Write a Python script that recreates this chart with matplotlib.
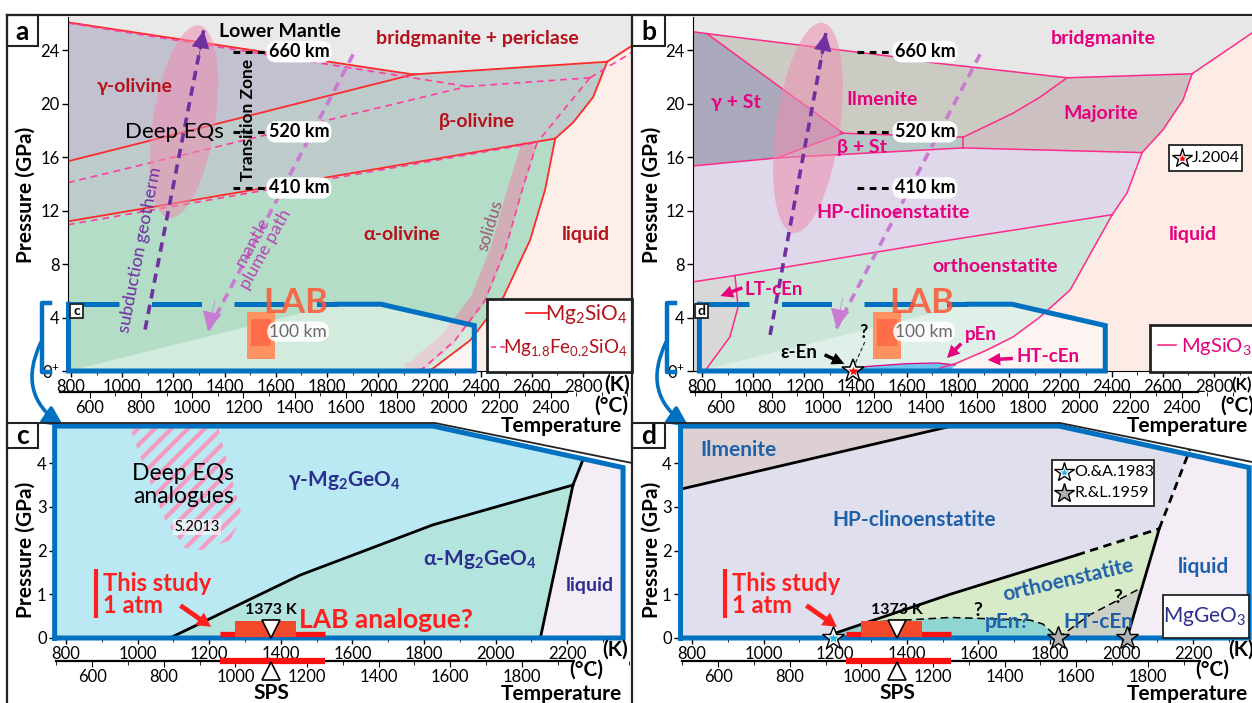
import matplotlib
matplotlib.use("Agg")
import matplotlib.pyplot as plt
from matplotlib.patches import Polygon, Rectangle, Ellipse, FancyArrowPatch
from matplotlib.lines import Line2D
from matplotlib.ticker import MultipleLocator
from matplotlib.transforms import IdentityTransform

plt.rcParams['font.family'] = ['Lato', 'DejaVu Sans']
plt.rcParams['mathtext.fontset'] = 'custom'
plt.rcParams['mathtext.rm'] = 'Lato'
plt.rcParams['mathtext.bf'] = 'Lato:bold'
plt.rcParams['mathtext.fallback'] = 'stixsans'
plt.rcParams['hatch.linewidth'] = 3.0

# ---------------- data : T in K, P in GPa ----------------
# (a) Mg2SiO4, solid lines
fo_bm_gam = [(788, 26.1), (2136, 22.2)]
fo_gam_beta = [(788, 15.7), (2136, 22.2)]
fo_bm_beta = [(2136, 22.2), (2894, 23.15)]
fo_bm_liq = [(2894, 23.15), (2995, 24.4)]
fo_beta_alpha = [(788, 11.2), (2691, 17.4)]
fo_beta_liq = [(2894, 23.15), (2839, 20.5), (2761, 18.6), (2691, 17.4)]
fo_alpha_liq = [(2691, 17.4), (2652, 13.6), (2593, 9.8), (2488, 5.5), (2359, 2.3), (2214, 0.2), (2195, 0)]
# (a) Mg1.8Fe0.2SiO4, dashed lines
fa_bm_gam = [(788, 26.05), (2347, 21.3)]
fa_gam_beta = [(788, 14.1), (2347, 21.3)]
fa_bm_beta = [(2347, 21.3), (2827, 21.95)]
fa_bm_liq = [(2827, 21.95), (2995, 23.9)]
fa_beta_alpha = [(788, 10.95), (2620, 17.1)]
fa_beta_liq = [(2827, 21.95), (2620, 17.1)]
fa_solidus = [(2620, 17.1), (2562, 13.55), (2495, 9.05), (2417, 5.3), (2300, 2.3), (2175, 0.2), (2144, 0)]
solidus_band = [(2590, 17.0), (2533, 13.5), (2466, 9.0), (2388, 5.3), (2268, 2.3), (2140, 0.2), (2110, 0)]

# (b) MgSiO3
en_top = [(765, 25.4), (820, 25.25), (1562, 23.5), (1691, 23.1), (2226, 21.95), (2714, 22.25), (2948, 25.3)]
en_gst_ilm = [(820, 25.25), (1351, 17.8)]
en_gst_low = [(765, 15.35), (1093, 15.95)]
en_bst_left = [(1093, 15.95), (1351, 17.8)]
en_ilm_bst = [(1351, 17.8), (1820, 17.5)]
en_bst_low = [(1093, 15.95), (1820, 16.7)]
en_bst_maj = [(1820, 17.5), (1820, 16.7)]
en_ilm_maj = [(1820, 17.5), (2015, 19.3), (2120, 20.5), (2226, 21.95)]
en_maj_hpc = [(1820, 16.7), (2519, 16.35)]
en_maj_liq = [(2519, 16.35), (2600, 18.05), (2679, 20.3), (2714, 22.25)]
en_hpc_liq = [(2519, 16.35), (2460, 13.33), (2441, 12.8), (2402, 11.7)]
en_hpc_oen = [(765, 6.67), (929, 7.15), (1769, 9.81), (2402, 11.7)]
en_oen_liq = [(2402, 11.7), (2238, 6.07), (2120, 4.04), (2015, 2.55), (1913, 1.57), (1796, 0.6), (1730, 0.22), (1715, 0)]
en_ltc = [(929, 7.15), (941, 4.79), (909, 2.55), (823, 0.3), (812, 0)]
en_pen = [(1300, 0), (1450, 0.35), (1600, 0.55), (1720, 0.6), (1790, 0.45), (1765, 0)]
en_star = (1390, 0)

# (c) Mg2GeO4
mgo_gam_alpha = [(1090, 0), (1454, 1.44), (1825, 2.59), (2216, 3.5)]
mgo_liq = [(2125, 0), (2216, 3.5), (2245, 4.1)]
eq_blob = [(979, 4.8), (1225, 4.8), (1292, 2.77), (1258, 2.24), (1188, 2.01), (1132, 2.06), (1077, 2.7), (1021, 3.84)]

# (d) MgGeO3
mge_ilm = [(760, 3.39), (1525, 4.85)]
mge_hpc_oen = [(1160, 0), (1521, 1.0), (1875, 1.9)]
mge_hpc_oen_q = [(1875, 1.9), (2105, 2.5)]
mge_liq = [(2015, 0), (2105, 2.5)]
mge_liq_q = [(2105, 2.5), (2190, 4.3)]
mge_pen = [(1290, 0.36), (1521, 0.47), (1744, 0.41), (1780, 0.32), (1822, 0)]
mge_htc = [(1822, 0), (1911, 0.53), (2060, 1.17)]
mge_stars = [(1194, 0), (1822, 0), (2015, 0)]

# SPS experiment (this study)
sps_range = (1230, 1523)
lab_range = (1272, 1442)
sps_T = 1373

lab_top_dash = [(790, 5.0), (1840, 5.0)]
lab_outline = [(1840, 5.0), (2010, 5.0), (2375, 3.4), (2375, 0), (790, 0), (790, 5.0)]
cd_frame = [(768, 0), (768, 4.85), (1825, 4.85), (2356, 3.9), (2356, 0), (768, 0)]

BLUE = '#0070c0'
RED = '#ff1f1f'
DR = '#b5121b'
PINK = '#e6007e'
NAVY = '#2b2f8f'
BL2 = '#1f60aa'
PURP = '#7030a0'
PLUME = '#c87bd0'

W, H = 1252, 703
fig = plt.figure(figsize=(W / 100, H / 100), dpi=100)


def rect(x0, y0, x1, y1):
    return [x0 / W, 1 - y1 / H, (x1 - x0) / W, (y1 - y0) / H]


def fline(xs, ys, **kw):
    fig.add_artist(Line2D([x / W for x in xs], [1 - y / H for y in ys], **kw))


def ftext(x, y, s, **kw):
    fig.text(x / W, 1 - y / H, s, **kw)


def fbox(x0, y0, x1, y1, lw=1.5):
    fig.add_artist(Rectangle((x0 / W, 1 - y1 / H), (x1 - x0) / W, (y1 - y0) / H,
                             transform=fig.transFigure, fc='white', ec='#222222', lw=lw))


def fstar(x, y, ms, fc):
    fig.add_artist(Line2D([x / W], [1 - y / H], marker='*', ms=ms, mfc=fc, mec='black', mew=1.0))


def fill(ax, pts, color, z=1, **kw):
    ax.add_patch(Polygon(pts, closed=True, fc=color, ec='none', zorder=z, **kw))


def line(ax, pts, **kw):
    T, P = zip(*pts)
    ax.plot(T, P, **kw)


def style(ax, xt, yt, ylab, cticks, cloc, cb):
    ax.set_facecolor('none')
    for s in ('top', 'right'):
        ax.spines[s].set_visible(False)
    ax.set_xticks(xt)
    ax.xaxis.set_minor_locator(MultipleLocator(100))
    ax.set_yticks(yt)
    ax.set_yticklabels(ylab)
    ax.tick_params(labelsize=12, length=4, width=1, pad=2)
    ax.tick_params(which='minor', length=3)
    sec = ax.secondary_xaxis(cloc, functions=(lambda k: k - 273, lambda c: c + 273))
    sec.set_xticks(cticks)
    sec.xaxis.set_minor_locator(MultipleLocator(100))
    sec.tick_params(labelsize=12, length=4, pad=2)
    sec.tick_params(which='minor', length=3)
    sec.spines['bottom'].set_bounds(*cb)
    sec.spines['bottom'].set_linewidth(1.6)


def ellipse(ax, T, P, w, h, ang):
    cx, cy = ax.transData.transform((T, P))
    ax.add_patch(Ellipse((cx, cy), w, h, angle=ang, transform=IdentityTransform(),
                         fc='#ee8db0', ec='none', alpha=0.55, zorder=3))


def dash_arrow(ax, pts, tip_from, color, lw, ms):
    line(ax, pts, color=color, lw=lw, ls=(0, (2.6, 1.8)), zorder=4)
    ax.add_patch(FancyArrowPatch(tip_from, pts[-1], arrowstyle='-|>', mutation_scale=ms,
                                 color=color, lw=0.5, zorder=4, shrinkA=0, shrinkB=0))


def phase(ax, T, P, s, color, size=14, **kw):
    ax.text(T, P, s, color=color, fontsize=size, fontweight='bold', ha='center', va='center', zorder=6, **kw)


def km_labels(ax, t0, t1, tc):
    for s, p in (('660 km', 23.9), ('520 km', 17.9), ('410 km', 13.7)):
        ax.plot([t0, t1], [p, p], color='black', lw=2.2, ls=(0, (2.2, 1.8)), zorder=6)
        ax.text(tc, p, s, fontsize=13, fontweight='bold', ha='center', va='center', zorder=7,
                bbox=dict(boxstyle='round,pad=0.12,rounding_size=0.55', fc='white', ec='none'))


def lab_region(ax, rect_T):
    fill(ax, lab_outline[:5], 'white', z=1.6, alpha=0.42)
    line(ax, lab_top_dash, color=BLUE, lw=3.6, ls=(0, (10, 6.5)), zorder=5, solid_capstyle='butt')
    line(ax, lab_outline, color=BLUE, lw=3.6, zorder=5, clip_on=False, solid_joinstyle='miter')
    ax.add_patch(Rectangle((rect_T, 0.9), 110, 3.5, fc='#ff9262', ec='none', zorder=3))
    ax.add_patch(Rectangle((rect_T + 15, 1.9), 80, 2.0, fc='#ff6e4a', ec='none', zorder=3))
    ax.text(rect_T + 190, 5.1, 'LAB', fontsize=25, fontweight='bold', color='#ff5636', alpha=0.85,
            ha='center', va='center', zorder=7)
    ax.text(rect_T + 200, 2.95, '100 km', fontsize=12.5, color='#6a6a6a', ha='center', va='center', zorder=6,
            bbox=dict(boxstyle='round,pad=0.12,rounding_size=0.6', fc='white', ec='none', alpha=0.9))


def sps_marks(ax, tx, bar_T):
    ax.plot(sps_range, [0.1, 0.1], color='#ff1010', lw=3.8, solid_capstyle='butt', zorder=6)
    ax.add_patch(Rectangle((lab_range[0], 0.03), lab_range[1] - lab_range[0], 0.37, fc='#f24a2a', ec='none', zorder=6))
    ax.plot([sps_T], [0.2], marker='v', ms=13, mfc='white', mec='black', mew=1.2, zorder=7)
    ax.text(sps_T, 0.64, '1373 K', fontsize=11.5, fontweight='bold', ha='center', va='center', zorder=7)
    ax.plot(sps_range, [-0.53, -0.53], color='#ff1010', lw=4.5, solid_capstyle='butt', zorder=6, clip_on=False)
    ax.plot([sps_T], [-0.76], marker='^', ms=13, mfc='white', mec='black', mew=1.2, zorder=7, clip_on=False)
    ax.text(sps_T, -1.26, 'SPS', fontsize=15, fontweight='bold', ha='center', va='center', clip_on=False)
    ax.plot([bar_T, bar_T], [0.46, 1.58], color=RED, lw=3, solid_capstyle='butt', zorder=7)
    ax.text(tx, 1.0, 'This study\n1 atm', color=RED, fontsize=17, fontweight='bold', ha='left', va='center',
            linespacing=0.95, zorder=7)
    ax.annotate('', xy=(1211, 0.22), xytext=(1113, 0.78),
                arrowprops=dict(arrowstyle='simple,head_width=1.1,head_length=1.0,tail_width=0.35',
                                fc=RED, ec='none'), zorder=7)


# ================= panel a =================
ax_a = fig.add_axes(rect(68, 17, 632, 371))
ax_a.set_xlim(788, 2991)
ax_a.set_ylim(0, 26.5)
ax = ax_a
fill(ax, [(788, 26.6), (2995, 26.6), (2995, 24.4), (2894, 23.15), (2136, 22.2), (788, 26.1)], '#e9e9e9')
fill(ax, [(788, 26.1), (2136, 22.2), (788, 15.7)], '#c2c1d0')
fill(ax, [(788, 15.7), (2136, 22.2)] + fo_beta_liq + [(788, 11.2)], '#bdcbca')
fill(ax, [(788, 11.2)] + fo_alpha_liq + [(788, 0)], '#b3ddc6')
fill(ax, [(2995, 24.4)] + fo_beta_liq + fo_alpha_liq[1:] + [(2995, 0)], '#fdeee9')
line(ax, solidus_band, color='#d9a3b3', lw=11, alpha=0.8, zorder=1.5, solid_capstyle='butt')
for pts in (fo_bm_gam, fo_gam_beta, fo_bm_beta, fo_bm_liq, fo_beta_alpha, fo_beta_liq, fo_alpha_liq):
    line(ax, pts, color='#ff2a2a', lw=1.3, zorder=2)
for pts in (fa_bm_gam, fa_gam_beta, fa_bm_beta, fa_bm_liq, fa_beta_alpha, fa_beta_liq, fa_solidus):
    line(ax, pts, color='#ff3ca0', lw=1.2, ls=(0, (4, 3)), zorder=2)
lab_region(ax, 1487)
ellipse(ax, 1241, 18.65, 62, 195, -9)
dash_arrow(ax, [(1089, 3.1), (1318, 25.5)], (1300, 23.6), PURP, 2.6, 30)
dash_arrow(ax, [(1902, 23.7), (1335, 3.0)], (1362, 5.3), PLUME, 2.6, 32)
ax.text(1070, 9.1, 'subduction geotherm', color=PURP, fontsize=13, rotation=79, ha='center', va='center', zorder=6)
ax.text(1535, 9.4, 'mantle\nplume path', color='#b347b3', fontsize=13, rotation=61, ha='center', va='center',
        linespacing=0.9, zorder=6)
ax.text(2437, 10.9, 'solidus', color='#9e5878', fontsize=12.5, rotation=73, ha='center', va='center', zorder=6)
phase(ax, 1616, 25.4, 'Lower Mantle', 'black', 14)
phase(ax, 2386, 24.9, 'bridgmanite + periclase', DR, 14)
phase(ax, 1050, 21.3, 'γ-olivine', DR, 14)
phase(ax, 2386, 18.7, 'β-olivine', DR, 14)
phase(ax, 2093, 10.2, 'α-olivine', DR, 14)
phase(ax, 2812, 10.2, 'liquid', DR, 14)
ax.text(1202, 17.9, 'Deep EQs', fontsize=16, ha='center', va='center', zorder=6)
ax.text(1491, 18.8, 'Transition Zone', fontsize=12.5, fontweight='bold', rotation=90, ha='center', va='center', zorder=6)
km_labels(ax, 1433, 1557, 1690)
style(ax, range(800, 3000, 200), range(0, 28, 4), ['0$^\\mathregular{+}$'] + [str(v) for v in range(4, 28, 4)],
      range(600, 2600, 200), -0.059, (484, 2464))

# ================= panel b =================
ax_b = fig.add_axes(rect(693, 17, 1252, 371))
ax_b.set_xlim(765, 2948)
ax_b.set_ylim(0, 26.5)
ax = ax_b
fill(ax, [(765, 26.6), (2950, 26.6)] + en_top[::-1], '#e7e7e7')
fill(ax, [(765, 25.4), (820, 25.25), (1351, 17.8), (1093, 15.95), (765, 15.35)], '#a9a9bb')
fill(ax, en_top[1:5] + en_ilm_maj[::-1] + [(1351, 17.8)], '#cbcbc3')
fill(ax, [(1093, 15.95), (1351, 17.8), (1820, 17.5), (1820, 16.7)], '#b5c7c6')
fill(ax, en_ilm_maj + [(2714, 22.25)] + en_maj_liq[::-1] + [(1820, 16.7)], '#cdc0c1')
fill(ax, [(765, 15.35), (1093, 15.95), (1820, 16.7)] + en_hpc_liq + en_hpc_oen[::-1], '#dfd8ea')
fill(ax, en_hpc_oen + en_oen_liq[1:] + [(765, 0)], '#c9e6d9')
fill(ax, [(765, 6.67)] + en_ltc + [(765, 0)], '#d8d8d8')
fill(ax, [(2948, 25.3), (2714, 22.25)] + en_maj_liq[::-1][1:] + en_hpc_liq[1:] + en_oen_liq[1:] + [(2950, 0)], '#fdebe6')
fill(ax, en_pen, '#6ec3ec', z=1.8)
line(ax, en_pen[:-1], color=PINK, lw=0.9, zorder=2)
for pts in (en_top, en_gst_ilm, en_gst_low, en_bst_left, en_ilm_bst, en_bst_low, en_bst_maj, en_ilm_maj,
            en_maj_hpc, en_maj_liq, en_hpc_liq, en_hpc_oen, en_oen_liq, en_ltc):
    line(ax, pts, color='#ff2a8a', lw=1.1, zorder=2)
lab_region(ax, 1468)
ellipse(ax, 1214, 18.2, 64, 212, -8)
dash_arrow(ax, [(1066, 2.7), (1284, 25.3)], (1266, 23.4), PURP, 2.6, 30)
dash_arrow(ax, [(1886, 23.7), (1325, 3.2)], (1350, 5.5), PLUME, 2.6, 32)
phase(ax, 2366, 24.9, 'bridgmanite', PINK, 14)
phase(ax, 933, 20.1, 'γ + St', PINK, 14)
phase(ax, 1503, 20.3, 'Ilmenite', PINK, 14)
phase(ax, 1425, 16.7, 'β + St', PINK, 14)
phase(ax, 2358, 19.25, 'Majorite', PINK, 14)
phase(ax, 1546, 11.9, 'HP-clinoenstatite', PINK, 14)
phase(ax, 2718, 10.2, 'liquid', PINK, 14)
phase(ax, 1945, 7.8, 'orthoenstatite', PINK, 14)
phase(ax, 1081, 6.07, 'LT-cEn', PINK, 13.5)
phase(ax, 1890, 2.7, 'pEn', PINK, 13.5)
phase(ax, 2152, 1.12, 'HT-cEn', PINK, 13.5)
phase(ax, 1179, 1.35, 'ε-En', 'black', 13.5)
phase(ax, 1429, 2.9, '?', 'black', 13)
arw = dict(arrowstyle='simple,head_width=0.9,head_length=0.9,tail_width=0.25', ec='none')
ax.annotate('', xy=(862, 5.54), xytext=(968, 6.3), arrowprops=dict(fc=PINK, **arw), zorder=7)
ax.annotate('', xy=(1749, 0.82), xytext=(1820, 2.2), arrowprops=dict(fc=PINK, **arw), zorder=7)
ax.annotate('', xy=(1905, 0.82), xytext=(2025, 0.95), arrowprops=dict(fc=PINK, **arw), zorder=7)
ax.annotate('', xy=(1366, 0.45), xytext=(1269, 1.3), arrowprops=dict(fc='black', **arw), zorder=7)
line(ax, [(1390, 0.2), (1440, 2.35)], color='#333333', lw=0.9, ls=(0, (3, 2)), zorder=6)
ax.plot(*en_star, marker='*', ms=17, mfc='white', mec='black', mew=1.1, zorder=8, clip_on=False)
ax.plot(*en_star, marker='*', ms=7, mfc='red', mec='none', zorder=9, clip_on=False)
km_labels(ax, 1405, 1546, 1671)
style(ax, range(800, 3000, 200), range(0, 28, 4), ['0$^\\mathregular{+}$'] + [str(v) for v in range(4, 28, 4)],
      range(600, 2600, 200), -0.059, (484, 2464))

# ================= panel c =================
ax_c = fig.add_axes(rect(55, 423, 632, 638))
ax_c.set_xlim(769, 2381)
ax_c.set_ylim(0, 4.92)
ax = ax_c
clip_c = Polygon(cd_frame, closed=True, transform=ax.transData)
for pts, col in (([(760, 0), (760, 5), (2300, 5)] + mgo_gam_alpha[::-1], '#bae8f3'),
                 (mgo_gam_alpha + mgo_liq[1:] + [(2400, 4.1), (2400, 0)], '#b4e4de'),
                 (mgo_liq + [(2300, 5), (2400, 5), (2400, 0)], '#f4edf5')):
    p = Polygon(pts, closed=True, fc=col, ec='none', zorder=1)
    ax.add_patch(p)
    p.set_clip_path(clip_c)
ax.add_patch(Polygon(eq_blob, closed=True, fill=False, hatch='//', ec='#f59ac0', lw=0, zorder=2))
line(ax, mgo_gam_alpha, color='black', lw=2, zorder=3)
line(ax, mgo_liq, color='black', lw=2, zorder=3)
line(ax, cd_frame, color=BLUE, lw=3.6, zorder=5, clip_on=False, solid_joinstyle='miter')
ax.text(1127, 3.5, 'Deep EQs\nanalogues', fontsize=16.5, ha='center', va='center', linespacing=1.1, zorder=6)
ax.text(1166, 2.54, 'S.2013', fontsize=10.5, ha='center', va='center', zorder=6,
        bbox=dict(boxstyle='square,pad=0.1', fc='white', ec='none', alpha=0.6))
phase(ax, 1579, 3.6, 'γ-Mg$_\\mathregular{2}$GeO$_\\mathregular{4}$', NAVY, 15)
phase(ax, 1956, 1.8, 'α-Mg$_\\mathregular{2}$GeO$_\\mathregular{4}$', NAVY, 15)
phase(ax, 2264, 1.21, 'liquid', NAVY, 14)
ax.text(1452, 0.42, 'LAB analogue?', color=RED, fontsize=19, fontweight='bold', ha='left', va='center', zorder=8)
sps_marks(ax, 903, 884)
style(ax, range(800, 2400, 200), range(0, 5), [str(v) for v in range(5)], range(600, 2000, 200), -0.107, (500, 1943))
ax.spines['left'].set_visible(False)
ax.spines['bottom'].set_visible(False)

# ================= panel d =================
ax_d = fig.add_axes(rect(680, 423, 1252, 638))
ax_d.set_xlim(766.5, 2364)
ax_d.set_ylim(0, 4.92)
ax = ax_d
clip_d = Polygon(cd_frame, closed=True, transform=ax.transData)
regions_d = (
    ([(760, 0)] + mge_hpc_oen + mge_hpc_oen_q + mge_liq_q[1:] + [(2230, 5), (760, 5)], '#dfdfee'),
    ([(760, 3.39), (1525, 4.85), (1525, 5), (760, 5)], '#ddd0d2'),
    (mge_hpc_oen + mge_hpc_oen_q + [(2060, 1.17)] + mge_htc[::-1][1:], '#d7ebc9'),
    ([(1160, 0)] + mge_pen + [(1300, 0)], '#8fd6d3'),
    (mge_htc + [(2015, 0)], '#cbd0c4'),
    (mge_liq + mge_liq_q[1:] + [(2230, 5), (2400, 5), (2400, 0)], '#f4edf5'),
)
for pts, col in regions_d:
    p = Polygon(pts, closed=True, fc=col, ec='none', zorder=1)
    ax.add_patch(p)
    p.set_clip_path(clip_d)
line(ax, mge_ilm, color='black', lw=2, zorder=3)
line(ax, mge_hpc_oen, color='black', lw=2, zorder=3)
line(ax, mge_liq, color='black', lw=2, zorder=3)
line(ax, mge_hpc_oen_q, color='black', lw=2, ls=(0, (3, 2)), zorder=3)
line(ax, mge_liq_q, color='black', lw=2, ls=(0, (3, 2)), zorder=3)
line(ax, mge_pen, color='black', lw=1.1, ls=(0, (5, 3)), zorder=3)
line(ax, mge_htc, color='black', lw=1.1, ls=(0, (5, 3)), zorder=3)
line(ax, cd_frame, color=BLUE, lw=3.6, zorder=5, clip_on=False, solid_joinstyle='miter')
phase(ax, 931, 4.3, 'Ilmenite', BL2, 15)
phase(ax, 1420, 2.7, 'HP-clinoenstatite', BL2, 15)
phase(ax, 1850, 1.33, 'orthoenstatite', BL2, 15, rotation=13)
phase(ax, 1680, 0.37, 'pEn?', BL2, 15)
phase(ax, 1934, 0.37, 'HT-cEn', BL2, 15)
phase(ax, 2227, 1.62, 'liquid', BL2, 15)
phase(ax, 1599, 0.62, '?', 'black', 14)
phase(ax, 1990, 0.92, '?', 'black', 14)
sps_marks(ax, 912, 892)
for i, (t, p) in enumerate(mge_stars):
    ax.plot(t, p, marker='*', ms=17, mfc='white' if i == 0 else '#b0b0b0', mec='black', mew=1.0, zorder=8, clip_on=False)
    if i == 0:
        ax.plot(t, p, marker='*', ms=7, mfc='#1fb0e8', mec='none', zorder=9, clip_on=False)
style(ax, range(800, 2400, 200), range(0, 5), [str(v) for v in range(5)], range(600, 2000, 200), -0.107, (500, 1943))
ax.spines['left'].set_visible(False)
ax.spines['bottom'].set_visible(False)

# ================= frame, legends, labels =================
K = '#222222'
fline([7, 1252], [15, 15], color=K, lw=1.6)
fline([7, 7], [15, 703], color=K, lw=1.6)
fline([632, 632], [15, 703], color=K, lw=1.6)
fline([7, 435, 632], [423, 423, 463], color=K, lw=1.3)
fline([632, 1060, 1252], [423, 423, 462], color=K, lw=1.3)
for s, x0, y0, x1, y1 in (('a', 7, 15, 38, 46), ('b', 632, 15, 665, 46), ('c', 7, 423, 38, 448), ('d', 632, 423, 665, 448)):
    fbox(x0, y0, x1, y1)
    ftext((x0 + x1) / 2, (y0 + y1) / 2 + 1, s, fontsize=19, fontweight='bold', ha='center', va='center')
for s, x0 in (('c', 70), ('d', 695)):
    fbox(x0, 304, x0 + 13, 318, lw=1.3)
    ftext(x0 + 6.5, 311, s, fontsize=10, fontweight='bold', ha='center', va='center')

# axis titles
for x, y in ((26, 195), (652, 195), (26, 550), (652, 550)):
    ftext(x, y, 'Pressure (GPa)', fontsize=15, fontweight='bold', rotation=90, ha='center', va='center')
ftext(604, 385, '(K)', fontsize=15, fontweight='bold', ha='left', va='center')
ftext(1231, 385, '(K)', fontsize=12, fontweight='bold', ha='left', va='center')
for dx in (0, 626):
    ftext(611 + dx, 406, '(°C)', fontsize=15, fontweight='bold', ha='center', va='center')
    ftext(561 + dx, 426, 'Temperature', fontsize=15, fontweight='bold', ha='center', va='center')
    ftext(615 + dx, 650, '(K)', fontsize=15, fontweight='bold', ha='center', va='center')
    ftext(586 + dx, 670, '(°C)', fontsize=15, fontweight='bold', ha='center', va='center')
    ftext(561 + dx, 694, 'Temperature', fontsize=15, fontweight='bold', ha='center', va='center')

# LAB box brackets and curved arrows
for dx in (0, 625):
    fline([50 + dx, 42 + dx, 42 + dx, 50 + dx], [303, 303, 372, 372], color=BLUE, lw=3.2)
    fig.add_artist(FancyArrowPatch(((42 + dx) / W, 1 - 340 / H), ((66 + dx) / W, 1 - 428 / H),
                                   transform=fig.transFigure, connectionstyle='arc3,rad=0.45',
                                   arrowstyle='-|>', mutation_scale=30, lw=2.6, color=BLUE))

# legend a
fbox(487, 299, 632, 372, lw=2)
fline([526, 548], [313, 313], color='#ff2a2a', lw=1.3)
ftext(628, 314, 'Mg$_\\mathregular{2}$SiO$_\\mathregular{4}$', color=DR, fontsize=15, ha='right', va='center')
fline([491, 507], [347, 347], color='#ff3ca0', lw=1.2, ls=(0, (3, 2.5)))
ftext(628, 348, 'Mg$_\\mathregular{1.8}$Fe$_\\mathregular{0.2}$SiO$_\\mathregular{4}$', color=DR, fontsize=13.5,
      ha='right', va='center')
# legend b
fbox(1150, 325, 1256, 372, lw=2)
fline([1158, 1176], [345, 345], color='#ff2a8a', lw=1.2)
ftext(1181, 347, 'MgSiO$_\\mathregular{3}$', color=PINK, fontsize=14.5, ha='left', va='center')
fbox(1169, 145, 1242, 171, lw=1.3)
fstar(1182, 158, 15, 'white')
fig.add_artist(Line2D([1182 / W], [1 - 158 / H], marker='*', ms=6, mfc='red', mec='none'))
ftext(1192, 158, 'J.2004', fontsize=11.5, ha='left', va='center')
# legend d
fbox(1052, 460, 1154, 506, lw=1.3)
ftext(1074, 472, 'O.&A.1983', fontsize=11.5, ha='left', va='center')
ftext(1074, 493, 'R.&L.1959', fontsize=11.5, ha='left', va='center')
fstar(1064, 472, 15, 'white')
fig.add_artist(Line2D([1064 / W], [1 - 472 / H], marker='*', ms=6, mfc='#1fb0e8', mec='none'))
fstar(1064, 493, 15, '#b0b0b0')
fbox(1163, 595, 1249, 638, lw=1.3)
ftext(1205, 617, 'MgGeO$_\\mathregular{3}$', color=NAVY, fontsize=15, ha='center', va='center')

fig.savefig('out.png', dpi=100)
